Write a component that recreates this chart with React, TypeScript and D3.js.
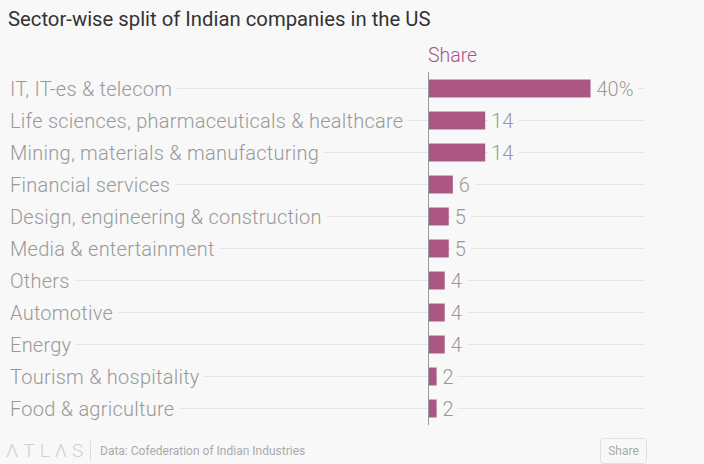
import React from "react";
import * as d3 from "d3";

const categories = [
  "IT, IT-es & telecom",
  "Life sciences, pharmaceuticals & healthcare",
  "Mining, materials & manufacturing",
  "Financial services",
  "Design, engineering & construction",
  "Media & entertainment",
  "Others",
  "Automotive",
  "Energy",
  "Tourism & hospitality",
  "Food & agriculture",
];
const shares = [40, 14, 14, 6, 5, 5, 4, 4, 4, 2, 2];
const valueLabels = ["40%", "14", "14", "6", "5", "5", "4", "4", "4", "2", "2"];

const W = 704;
const H = 464;
const FONT = "Roboto, 'Noto Sans', sans-serif";

export default function App() {
  const x = d3.scaleLinear().domain([0, 40]).range([428.5, 590.5]);
  const y = d3
    .scaleBand()
    .domain(categories)
    .range([72.5, 424.5])
    .paddingInner(0.44)
    .paddingOuter(0.22);
  const bw = y.bandwidth();
  return (
    <div style={{ position: "fixed", left: 0, top: 0, width: W, height: H, background: "#f8f8f8", overflow: "hidden" }}>
      <svg width={W} height={H} style={{ display: "block", fontFamily: FONT }}>
        <rect width={W} height={H} fill="#f8f8f8" />
        <text x={8} y={26} fontSize={20.3} fill="#333">
          Sector-wise split of Indian companies in the US
        </text>
        <text x={428} y={62} fontSize={19.5} fill="#a85585" fontWeight={300}>
          Share
        </text>
        {categories.map((c, i) => {
          const cy = (y(c) as number) + bw / 2;
          return (
            <g key={c}>
              <line x1={10} x2={644} y1={cy} y2={cy} stroke="#e6e6e6" strokeWidth={1} />
              <text
                x={10}
                y={cy + 7}
                fontSize={20}
                fontWeight={300}
                letterSpacing={0.25}
                fill="#999"
                stroke="#f8f8f8"
                strokeWidth={12}
                paintOrder="stroke"
                strokeLinejoin="round"
              >
                {c}
              </text>
              <rect x={x(0)} y={y(c)} width={x(shares[i]) - x(0)} height={bw} fill="#ab5683" />
              <text
                x={x(shares[i]) + 6}
                y={cy + 7}
                fontSize={20}
                fontWeight={300}
                fill="#999"
                stroke="#f8f8f8"
                strokeWidth={12}
                paintOrder="stroke"
                strokeLinejoin="round"
              >
                {valueLabels[i]}
              </text>
            </g>
          );
        })}
        <line x1={428.5} x2={428.5} y1={72} y2={425} stroke="#999" strokeWidth={1} />
        <text x={6} y={457} fontSize={19} fill="#cfcfcf" letterSpacing={5} fontWeight={300}>
          ΛTLΛS
        </text>
        <line x1={90.5} x2={90.5} y1={441} y2={461} stroke="#ddd" />
        <text x={100} y={455} fontSize={12} fill="#aaa">
          Data: Cofederation of Indian Industries
        </text>
        <rect x={600.5} y={438.5} width={46} height={25} rx={3} fill="none" stroke="#e0e0e0" />
        <text x={623.5} y={455} fontSize={12} fill="#aaa" textAnchor="middle">
          Share
        </text>
      </svg>
    </div>
  );
}
